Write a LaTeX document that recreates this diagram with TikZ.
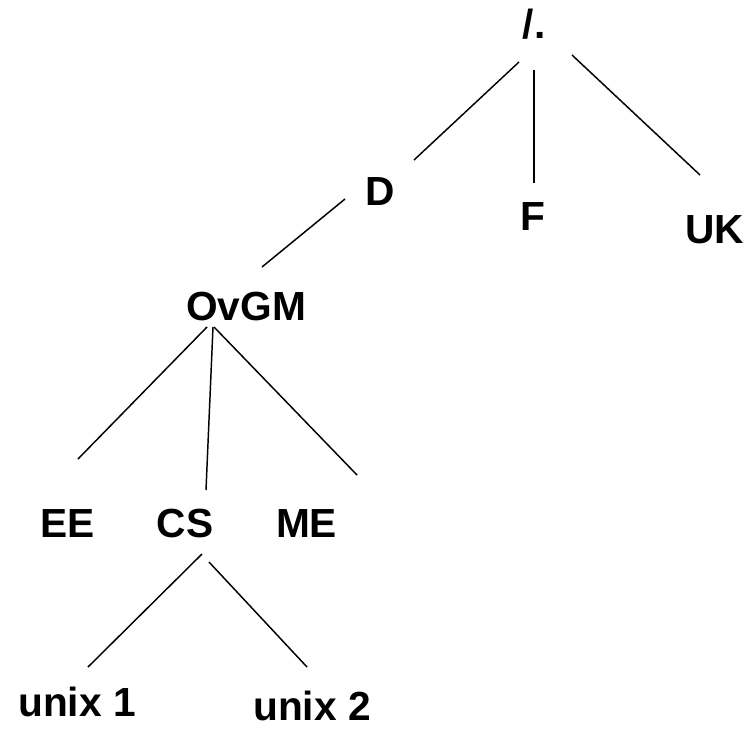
\documentclass[tikz,border=0pt]{standalone}
\usepackage{fontspec}
\setmainfont{Liberation Sans}

\begin{document}
\begin{tikzpicture}[
		x=0.75pt,y=-0.75pt,
		every node/.style={font=\fontsize{30.5}{36}\selectfont\bfseries, inner sep=0pt, anchor=base},
		branch/.style={line width=1.1pt}
		]
		\useasboundingbox (0,0) rectangle (747,729);
		
		% =========================
		% Labels (placed on their baselines)
		% =========================
		\node (root) at (534,38) {/.};
		
		\node (d)  at (380,205) {D};
		\node (f)  at (532.5,230) {F};
		\node (uk) at (714.5,243) {UK};
		
		\node (ovgm) at (246,320) {OvGM};
		
		\node (ee) at (67.5,537) {EE};
		\node (cs) at (185,537) {CS};
		\node (me) at (306.5,537) {ME};
		
		\node (unixa) at (77,716) {unix 1};
		\node (unixb) at (312,720) {unix 2};
		
		% =========================
		% Branch ends (lines stop short of the labels)
		% =========================
		\coordinate (root-d)  at (519,62);  \coordinate (d-up)  at (414,160);
		\coordinate (root-f)  at (534,70);  \coordinate (f-up)  at (534,183);
		\coordinate (root-uk) at (572,55);  \coordinate (uk-up) at (700,175);
		
		\coordinate (d-ovgm) at (345,199);  \coordinate (ovgm-up) at (262,267);
		
		\coordinate (ovgm-ee) at (207,327); \coordinate (ee-up) at (78,459);
		\coordinate (ovgm-cs) at (213,327); \coordinate (cs-up) at (206,490);
		\coordinate (ovgm-me) at (214,327); \coordinate (me-up) at (357,475);
		
		\coordinate (cs-unixa) at (202,554); \coordinate (unixa-up) at (88,667);
		\coordinate (cs-unixb) at (209,562); \coordinate (unixb-up) at (307,667);
		
		% =========================
		% Branches
		% =========================
		\draw[branch] (root-d) -- (d-up);
		\draw[branch] (root-f) -- (f-up);
		\draw[branch] (root-uk) -- (uk-up);
		
		\draw[branch] (d-ovgm) -- (ovgm-up);
		
		\draw[branch] (ovgm-ee) -- (ee-up);
		\draw[branch] (ovgm-cs) -- (cs-up);
		\draw[branch] (ovgm-me) -- (me-up);
		
		\draw[branch] (cs-unixa) -- (unixa-up);
		\draw[branch] (cs-unixb) -- (unixb-up);
	\end{tikzpicture}
\end{document}
